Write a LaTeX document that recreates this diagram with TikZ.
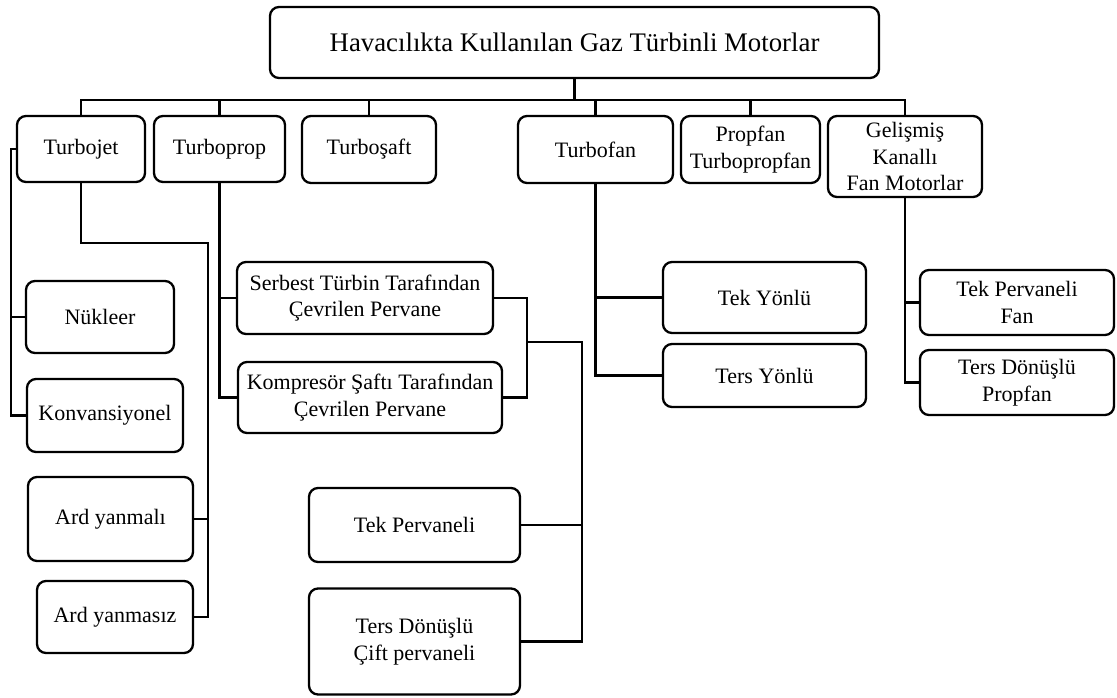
\documentclass[tikz,border=0pt]{standalone}
\usepackage{fontspec}
\setmainfont{Liberation Serif}
\tikzset{
  kutu/.style={draw, rounded corners=9pt, line width=2.3pt, align=center, inner sep=0pt,
    font=\fontsize{22}{26.5}\selectfont},
  hat/.style={line width=2.2pt}
}
\begin{document}
\begin{tikzpicture}[x=1pt,y=-1pt]
\useasboundingbox (0,0) rectangle (1117,697);
\node[kutu, minimum width=609pt, minimum height=71pt, font=\fontsize{26.8}{30}\selectfont] (ana) at (574.5,42.5) {Havacılıkta Kullanılan Gaz Türbinli Motorlar};
\node[kutu, minimum width=128pt, minimum height=66pt] (turbojet) at (81,149) {Turbojet};
\node[kutu, minimum width=131pt, minimum height=66pt] (turboprop) at (219.5,149) {Turboprop};
\node[kutu, minimum width=134pt, minimum height=67pt] (turbosaft) at (369,149.5) {Turboşaft};
\node[kutu, minimum width=155pt, minimum height=67pt] (turbofan) at (595.5,149.5) {Turbofan};
\node[kutu, minimum width=139pt, minimum height=67pt] (propfan) at (750.5,149.5) {Propfan\\Turbopropfan};
\node[kutu, minimum width=154pt, minimum height=81pt] (gelismis) at (905,156.5) {Gelişmiş\\Kanallı\\Fan Motorlar};
\node[kutu, minimum width=148pt, minimum height=72pt] (nukleer) at (100,317) {Nükleer};
\node[kutu, minimum width=156pt, minimum height=73pt] (konv) at (105,415.5) {Konvansiyonel};
\node[kutu, minimum width=165pt, minimum height=84pt] (ardyanmali) at (110.5,519) {Ard yanmalı};
\node[kutu, minimum width=156pt, minimum height=72pt] (ardyanmasiz) at (115,617) {Ard yanmasız};
\node[kutu, minimum width=256pt, minimum height=72pt] (serbest) at (365,298) {Serbest Türbin Tarafından\\Çevrilen Pervane};
\node[kutu, minimum width=264pt, minimum height=71pt] (kompresor) at (370,397.5) {Kompresör Şaftı Tarafından\\Çevrilen Pervane};
\node[kutu, minimum width=211pt, minimum height=74pt] (tekperv) at (414.5,525) {Tek Pervaneli};
\node[kutu, minimum width=211pt, minimum height=106pt] (terscift) at (414.5,641.5) {Ters Dönüşlü\\Çift pervaneli};
\node[kutu, minimum width=203pt, minimum height=71pt] (tekyonlu) at (764.5,297.5) {Tek Yönlü};
\node[kutu, minimum width=203pt, minimum height=63pt] (tersyonlu) at (764.5,375.5) {Ters Yönlü};
\node[kutu, minimum width=194pt, minimum height=65pt] (tekfan) at (1017,302.5) {Tek Pervaneli\\Fan};
\node[kutu, minimum width=194pt, minimum height=65pt] (terspropfan) at (1017,382.5) {Ters Dönüşlü\\Propfan};
\coordinate (bus) at (574.5,100);
\coordinate (sol) at (11,0);
\coordinate (ardhat) at (208,243);
\coordinate (pervhat) at (527,342);
\coordinate (cifthat) at (582,342);
\draw[hat] (ana.south) -- (bus);
\draw[hat] (turbojet.north) |- (bus) -| (gelismis.north);
\foreach \n in {turboprop,turbosaft,turbofan,propfan}
  \draw[hat] (\n.north) -- (\n.north |- bus);
\draw[hat] (turbojet.west) -- (turbojet.west -| sol) |- (konv.west);
\draw[hat] (nukleer.west) -- (nukleer.west -| sol);
\draw[hat] (turbojet.south) |- (ardhat) |- (ardyanmasiz.east);
\draw[hat] (ardyanmali.east) -- (ardyanmali.east -| ardhat);
\draw[hat] (turboprop.south) |- (kompresor.west);
\draw[hat] (serbest.west) -- (serbest.west -| turboprop.south);
\draw[hat] (serbest.east) -| (pervhat) |- (kompresor.east);
\draw[hat] (pervhat) -- (cifthat) |- (terscift.east);
\draw[hat] (tekperv.east) -- (tekperv.east -| cifthat);
\draw[hat] (turbofan.south) |- (tersyonlu.west);
\draw[hat] (tekyonlu.west) -- (tekyonlu.west -| turbofan.south);
\draw[hat] (gelismis.south) |- (terspropfan.west);
\draw[hat] (tekfan.west) -- (tekfan.west -| gelismis.south);
\end{tikzpicture}
\end{document}
